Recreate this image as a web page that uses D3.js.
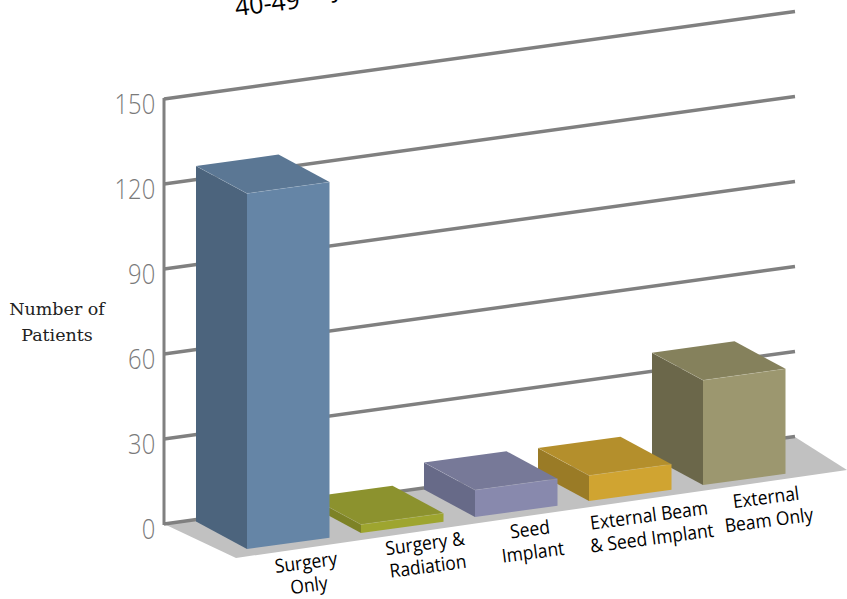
<!DOCTYPE html>
<html><head><meta charset="utf-8">
<style>html,body{margin:0;padding:0;background:#fff}svg{display:block}</style>
<script src="https://cdn.jsdelivr.net/npm/d3@7"></script></head>
<body><svg id="c" width="847" height="599"></svg>
<script>
const categories = [["Surgery","Only"],["Surgery &","Radiation"],["Seed","Implant"],["External Beam","& Seed Implant"],["External","Beam Only"]];
const values = [125.5, 3, 9.5, 9, 37];
const tickLabels = [0, 30, 60, 90, 120, 150];
const axisTitle = ["Number of","Patients"];
const clippedTitle = ["40-49","years"];
const fronts = ["#6585a6","#9ea52f","#8889ad","#d0a431","#9c976f"];
const sides = ["#4c647d","#7d8226","#676a88","#9a7b26","#6b674a"];
const tops = ["#5b7794","#8c922e","#777998","#b48f2c","#85815c"];

const svg = d3.select("#c");
const h = d3.scaleLinear().domain([0,150]).range([0,425]);
const wall = {x0:164,y0:524,x1:795,y1:436.5};
const frontX = d3.scaleLinear().domain([0,4]).range([247,703]);
const frontY = d3.scaleLinear().domain([0,4]).range([549,485]);
const W = {x:82.5,y:-11.3}, D = {x:-51,y:-27.5};
const pts = a => a.map(p=>p.join(",")).join(" ");
const labelDx = [59,64,55,60,63], labelDy = [14,11,13,15,13];
const grey="#7a7a7a";

// floor
svg.append("polygon").attr("points",pts([[164,524],[795,437],[847,470],[236,558]])).attr("fill","#c1c1c1");

// gridlines + wall axis
svg.selectAll("line.g").data(tickLabels).join("line").attr("class","g")
 .attr("x1",wall.x0).attr("x2",wall.x1)
 .attr("y1",d=>wall.y0-h(d)).attr("y2",d=>wall.y1-h(d))
 .attr("stroke","#808080").attr("stroke-width",3.4);
svg.append("line").attr("x1",wall.x0).attr("x2",wall.x0).attr("y1",wall.y0+1).attr("y2",wall.y0-h(150)-1)
 .attr("stroke","#808080").attr("stroke-width",3);

// axis labels
const yAxis = d3.axisLeft(d3.scaleLinear().domain([0,150]).range([wall.y0,wall.y0-h(150)]))
 .tickValues(tickLabels).tickSize(0).tickPadding(10).tickFormat(d3.format("d"));
const ag = svg.append("g").attr("transform",`translate(${wall.x0},5)`).call(yAxis);
ag.select(".domain").remove();
ag.selectAll("text").attr("font-family","'Open Sans'").attr("font-weight",300).attr("font-size",27)
 .attr("fill",grey).attr("dy","0.35em").attr("transform","scale(0.88,1)");

// bars, right to left so the nearer-left bar covers its neighbour
d3.range(values.length).reverse().forEach(i=>{
 const x=frontX(i), y=frontY(i), H=h(values[i]);
 const fb=[x,y], fbr=[x+W.x,y+W.y], ft=[x,y-H], ftr=[x+W.x,y+W.y-H];
 const bt=[x+D.x,y+D.y-H], bb=[x+D.x,y+D.y], btr=[x+W.x+D.x,y+W.y+D.y-H];
 const g=svg.append("g");
 g.append("polygon").attr("points",pts([bb,fb,ft,bt])).attr("fill",sides[i]);
 g.append("polygon").attr("points",pts([bt,ft,ftr,btr])).attr("fill",tops[i]);
 g.append("polygon").attr("points",pts([ft,ftr,fbr,fb])).attr("fill",fronts[i]);
 g.append("polyline").attr("points",pts([bt,ft,ftr])).attr("fill","none").attr("stroke","#fff").attr("stroke-opacity",.16).attr("stroke-width",.7);
});

// category labels
categories.forEach((lines,i)=>{
 const cx=frontX(i)+labelDx[i], cy=frontY(i)+labelDy[i];
 const t=svg.append("g").attr("transform",`translate(${cx},${cy}) rotate(-7.5) scale(0.92,1)`);
 lines.forEach((s,k)=>t.append("text").attr("x",0).attr("y",k*23+6).attr("text-anchor","middle")
   .attr("font-family","'Open Sans'").attr("font-size",19).attr("fill","#000").text(s));
});

// y-axis title
axisTitle.forEach((s,k)=>svg.append("text").attr("x",57).attr("y",315+k*26).attr("text-anchor","middle")
  .attr("font-family","'DejaVu Serif'").attr("font-size",17.5).attr("fill","#222").text(s));

// clipped chart title
svg.append("text").attr("transform","translate(236,16) rotate(-7)").attr("font-family","'Open Sans'").attr("font-size",25).attr("fill","#000").text(clippedTitle[0]);
svg.append("text").attr("transform","translate(331,-3) rotate(-7)").attr("font-family","'Open Sans'").attr("font-size",25).attr("fill","#000").text(clippedTitle[1]);
</script>
</body></html>
